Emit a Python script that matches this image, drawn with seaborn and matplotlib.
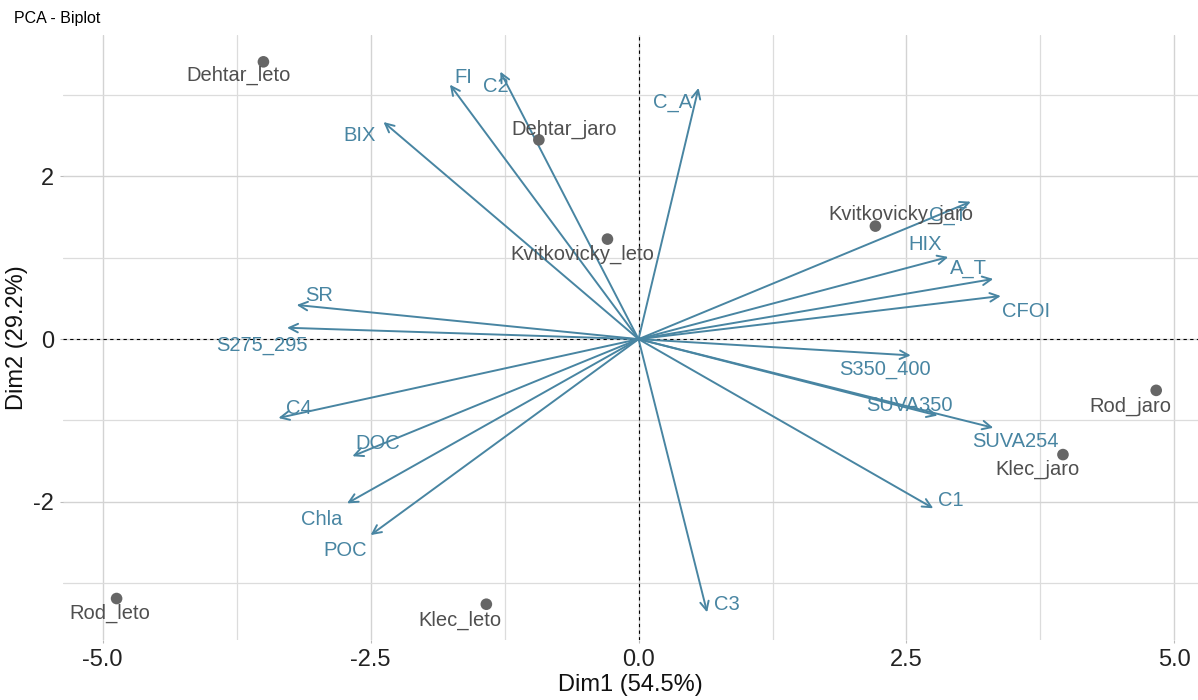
import matplotlib.pyplot as plt
import matplotlib.ticker as mticker
import pandas as pd
import seaborn as sns

# Individuals (PCA scores)
IND_NAMES = ["Dehtar_leto", "Dehtar_jaro", "Kvitkovicky_leto", "Kvitkovicky_jaro",
             "Rod_jaro", "Klec_jaro", "Rod_leto", "Klec_leto"]
IND_DIM1 = [-3.50, -0.93, -0.29, 2.21, 4.83, 3.96, -4.87, -1.42]
IND_DIM2 = [3.41, 2.45, 1.23, 1.39, -0.63, -1.42, -3.19, -3.26]

# Variables (arrow tips)
VAR_NAMES = ["FI", "C2", "C_A", "BIX", "C_T", "HIX", "A_T", "CFOI", "S350_400",
             "SUVA350", "SUVA254", "C1", "C3", "SR", "S275_295", "C4", "DOC",
             "Chla", "POC"]
VAR_DIM1 = [-1.76, -1.29, 0.56, -2.38, 3.10, 2.89, 3.31, 3.38, 2.54,
            2.79, 3.31, 2.75, 0.64, -3.19, -3.28, -3.36, -2.67, -2.72, -2.50]
VAR_DIM2 = [3.13, 3.29, 3.09, 2.67, 1.69, 1.01, 0.74, 0.53, -0.20,
            -0.94, -1.09, -2.08, -3.36, 0.42, 0.14, -0.97, -1.44, -2.02, -2.41]

# Label offsets (pixels) - mimics the repelled labels
IND_OFFSETS = {
    "Dehtar_leto": (-25, -14), "Dehtar_jaro": (25, 11),
    "Kvitkovicky_leto": (-25, -15), "Kvitkovicky_jaro": (25, 12),
    "Rod_jaro": (-26, -16), "Klec_jaro": (-25, -15),
    "Rod_leto": (-7, -15), "Klec_leto": (-26, -16),
}
VAR_OFFSETS = {
    "FI": (13, 7), "C2": (-4, -15), "C_A": (-26, -15), "BIX": (-24, -13),
    "C_T": (-23, -14), "HIX": (-23, 12), "A_T": (-25, 10), "CFOI": (25, -15),
    "S350_400": (-26, -14), "SUVA350": (-28, 10), "SUVA254": (22, -14),
    "C1": (18, 8), "C3": (20, 8), "SR": (22, 9), "S275_295": (-25, -18),
    "C4": (20, 10), "DOC": (25, 13), "Chla": (-25, -16), "POC": (-25, -15),
}

COR_VAR = "#4885A2"
COR_IND = "#666666"
COR_TXT_IND = "#4F4F4F"
FONTE = ["Liberation Sans", "DejaVu Sans"]

sns.set_theme(style="whitegrid")
plt.rcParams["font.family"] = FONTE

ind = pd.DataFrame({"nome": IND_NAMES, "dim1": IND_DIM1, "dim2": IND_DIM2})
var = pd.DataFrame({"nome": VAR_NAMES, "dim1": VAR_DIM1, "dim2": VAR_DIM2})

fig = plt.figure(figsize=(11.98, 7.0), dpi=100)
ax = fig.add_axes([63 / 1198, 60 / 700, 1135 / 1198, 605 / 700])

# grade
ax.set_xlim(-5.37, 5.22)
ax.set_ylim(-3.70, 3.74)
ax.xaxis.set_major_locator(mticker.MultipleLocator(2.5))
ax.xaxis.set_minor_locator(mticker.MultipleLocator(1.25))
ax.yaxis.set_major_locator(mticker.MultipleLocator(2))
ax.yaxis.set_minor_locator(mticker.MultipleLocator(1))
ax.xaxis.set_major_formatter(mticker.FormatStrFormatter("%.1f"))
ax.yaxis.set_major_formatter(mticker.FormatStrFormatter("%d"))
ax.grid(which="major", color="#D3D3D3", lw=1.0)
ax.grid(which="minor", color="#DCDCDC", lw=0.9)
for s in ax.spines.values():
    s.set_visible(False)
ax.tick_params(which="major", length=2.5, width=0.8, color="#BBBBBB",
               labelsize=17, labelcolor="#222222", pad=4, bottom=True, left=True)
ax.tick_params(which="minor", length=0)

ax.axhline(0, color="black", lw=0.8, ls=(0, (3, 3)), zorder=1)
ax.axvline(0, color="black", lw=0.8, ls=(0, (3, 3)), zorder=1)

# setas das variáveis
for _, r in var.iterrows():
    ax.annotate("", xy=(r.dim1, r.dim2), xytext=(0, 0),
                arrowprops=dict(arrowstyle="->,head_length=0.45,head_width=0.22",
                                color=COR_VAR, lw=1.4, shrinkA=0, shrinkB=0,
                                mutation_scale=14),
                zorder=3)
    dx, dy = VAR_OFFSETS[r.nome]
    ax.annotate(r.nome, xy=(r.dim1, r.dim2), xytext=(dx, dy),
                textcoords="offset pixels", ha="center", va="center",
                fontsize=14.5, color=COR_VAR, zorder=4)

# indivíduos
sns.scatterplot(data=ind, x="dim1", y="dim2", color=COR_IND, s=70,
                edgecolor="none", ax=ax, zorder=5)
for _, r in ind.iterrows():
    dx, dy = IND_OFFSETS[r.nome]
    ax.annotate(r.nome, xy=(r.dim1, r.dim2), xytext=(dx, dy),
                textcoords="offset pixels", ha="center", va="center",
                fontsize=14.5, color=COR_TXT_IND, zorder=6)

ax.set_xlabel("Dim1 (54.5%)", fontsize=17, color="#111111", labelpad=2)
ax.set_ylabel("Dim2 (29.2%)", fontsize=17, color="#111111", labelpad=4)
fig.text(14 / 1198, 1 - 19 / 700, "PCA - Biplot", fontsize=11.5,
         ha="left", va="center", color="black")

plt.savefig("out.png", dpi=100)
plt.close()
